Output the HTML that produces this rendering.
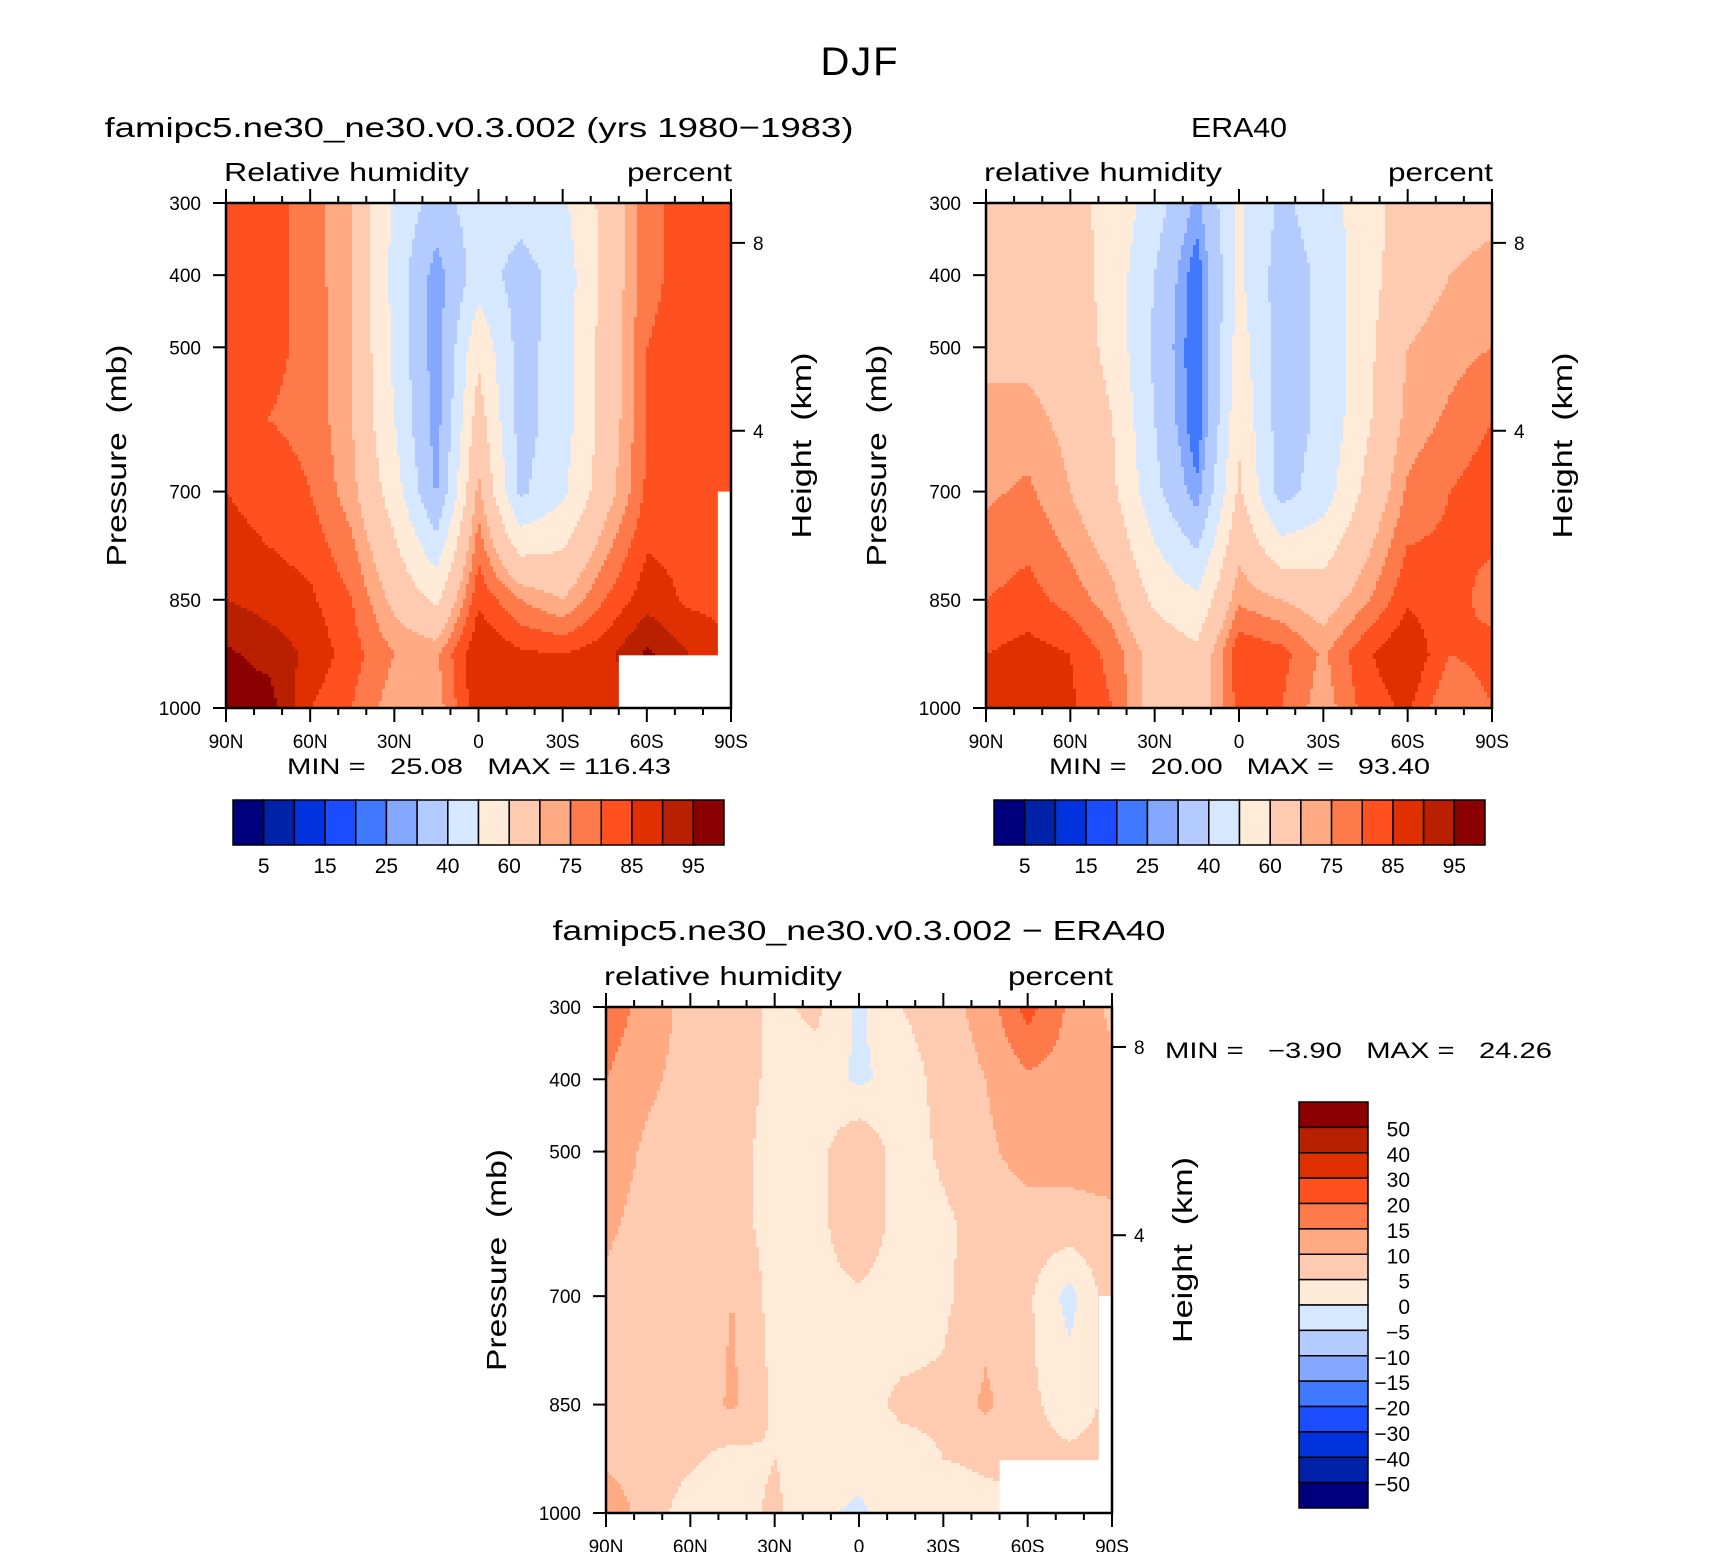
<!DOCTYPE html>
<html><head><meta charset="utf-8"><style>
html,body{margin:0;padding:0;background:#fff;}
svg{display:block;font-family:"Liberation Sans",sans-serif;}
text{white-space:pre;}
</style></head><body>
<svg id="fig" width="1710" height="1552" viewBox="0 0 1710 1552" xmlns="http://www.w3.org/2000/svg">
<rect width="1710" height="1552" fill="#fff"/>
<text x="859" y="75" font-size="40" text-anchor="middle" textLength="77">DJF</text>
<g id="layer"></g>
</svg>
<script>
// ---- data ----
const latLabels = ['90N','60N','30N','0','30S','60S','90S'];
const pressures = [300,400,500,600,700,850,925,1000];
const pTicks = [300,400,500,700,850,1000];
// model RH (rows = pressures, cols = 90N..90S every 15 deg)
const modelRH = [
 [83,82,78,70,48,36,45,44,48,63,78,83,84],
 [83,82,78,70,47,26,45,36,44,63,78,83,84],
 [83,81,79,70,48,25.5,58,36,45,64,80,83,84],
 [84,80,79,70,50,26,65,36,45,64,80,83,84],
 [85,82,80,72,55,29,72,38,48,66,81,83,84],
 [90,88,86,80,68,58,84,75,70,80,88,84,83],
 [96,93,89,82,75,74,90,86,85,88,96,90,86],
 [98,98,85,80,72,72,89,87,90,86,92,90,86]
];
const eraRH = [
 [65,65,63,57,45,28,52,38,45,56,64,64,66],
 [66,66,65,56,40,21,52,35,42,56,66,70,74],
 [68,68,66,57,38,20,55,35,42,57,70,73,75],
 [72,72,68,60,40,20,58,35,42,58,72,76,80],
 [74,76,70,62,43,26,62,36,45,62,76,80,83],
 [80,82,78,72,58,52,74,70,66,74,84,82,78],
 [85,87,85,78,67,62,84,82,74,84,90,80,82],
 [90,88,86,80,66,63,82,80,72,82,86,75,80]
];
const diffRH = [
 [18,13,8,7,4,6,-1,5,8,12,22,14,9],
 [15,11,8,7,4,3,-1,2,7,10,14,13,11],
 [13,9,8,7,3,3,10,2,6,9,12,12,12],
 [11,8,8,7,3,3,10,2,4,7,8,8,9],
 [9,7,7,10,3,3,4,2,4,8,6,-2,8],
 [8,7,6,11,4,3,3,6,6,11,6,3,6],
 [9,8,6,3,5,3,2,3,5,6,6,6,6],
 [13,8,2,3,6,1,-1,3,1,3,5,5,5]
];
const rhLevels = [5,10,15,20,25,30,40,50,60,70,75,80,85,90,95];
const rhLabels = ['5','15','25','40','60','75','85','95'];
const diffLevels = [-50,-40,-30,-20,-15,-10,-5,0,5,10,15,20,30,40,50];
const diffLabels = ['50','40','30','20','15','10','5','0','\u22125','\u221210','\u221215','\u221220','\u221230','\u221240','\u221250'];
const colors = ['#00007f','#0022a8','#0033dd','#1a4dff','#4078ff','#84a8ff','#b3cbff','#d6e8ff','#ffebd8','#ffcbb0','#ffaa82','#ff7a4a','#ff5020','#e03000','#b82000','#8b0000'];

const NS='http://www.w3.org/2000/svg';
const layer=document.getElementById('layer');
function mk(tag,attrs,parent,txt){const e=document.createElementNS(NS,tag);for(const k in attrs)e.setAttribute(k,attrs[k]);if(txt!==undefined)e.textContent=txt;(parent||layer).appendChild(e);return e;}

function levelIndex(v,levels){let i=0;while(i<levels.length&&v>=levels[i])i++;return i;}
function valueAt(grid,fx,p){
  const nc=grid[0].length; const x=fx*(nc-1); let c=Math.min(Math.floor(x),nc-2); const tx=x-c;
  let r=0; while(r<pressures.length-2&&p>pressures[r+1])r++;
  const ty=(p-pressures[r])/(pressures[r+1]-pressures[r]);
  const a=grid[r][c]*(1-tx)+grid[r][c+1]*tx, b=grid[r+1][c]*(1-tx)+grid[r+1][c+1]*tx;
  return a*(1-ty)+b*ty;
}

function panel(o){
  const g=mk('g',{},layer);  
  const X=o.x,Y=o.y,W=o.w,H=o.h;
  const xs=fx=>X+fx*W, ys=p=>Y+(p-300)/700*H;
  const st=3;
  for(let yy=0;yy<H;yy+=st){
    const p=300+(yy+st/2)/H*700; let runStart=0,runIdx=-1;
    const flush=(end)=>{const r=mk('rect',{x:X+runStart,y:Y+yy,width:end-runStart+0.6,height:Math.min(st,H-yy)+0.6,fill:colors[runIdx]},g);
       };
    for(let xx=0;xx<W;xx+=st){
      const idx=levelIndex(valueAt(o.grid,(xx+st/2)/W,p),o.levels);
      if(idx!==runIdx){if(runIdx>=0)flush(xx);runStart=xx;runIdx=idx;}
    }
    flush(W);
  }
  if(o.mask){
    const m1=mk('rect',{x:xs(0.778),y:ys(927),width:W-0.778*W,height:H-(ys(927)-Y),fill:'#fff'},g);
     
    const m2=mk('rect',{x:xs(0.974),y:ys(700),width:0.026*W,height:H-(ys(700)-Y),fill:'#fff'},g);
     
  }
  const fr=mk('rect',{x:X,y:Y,width:W,height:H,fill:'none',stroke:'#000','stroke-width':2.5},g);
   
  for(let d=0;d<=18;d++){const fx=d/18, major=d%3===0, len=major?14:7;
    mk('line',{x1:xs(fx),x2:xs(fx),y1:Y,y2:Y-len,stroke:'#000','stroke-width':2},g);
    mk('line',{x1:xs(fx),x2:xs(fx),y1:Y+H,y2:Y+H+len,stroke:'#000','stroke-width':2},g);}
  latLabels.forEach((l,i)=>{const t=mk('text',{x:xs(i/6),y:Y+H+40,'font-size':19,'text-anchor':'middle'},g,l);
     });
  pTicks.forEach(p=>{mk('line',{x1:X,x2:X-13,y1:ys(p),y2:ys(p),stroke:'#000','stroke-width':2},g);
    const t=mk('text',{x:X-25,y:ys(p)+7,'font-size':19,'text-anchor':'end'},g,String(p));
     });
  [[8,0.079],[4,0.451]].forEach(([k,f])=>{mk('line',{x1:X+W,x2:X+W+14,y1:Y+f*H,y2:Y+f*H,stroke:'#000','stroke-width':2},g);
    const t=mk('text',{x:X+W+22,y:Y+f*H+7,'font-size':19},g,String(k));
     });
  const t1=mk('text',{x:o.title[1],y:o.title[2],'font-size':28,'text-anchor':'middle',textLength:o.title[3],lengthAdjust:'spacingAndGlyphs'},g,o.title[0]);
   
  const t2=mk('text',{x:X-2,y:Y-22,'font-size':26,textLength:o.lhW,lengthAdjust:'spacingAndGlyphs'},g,o.lh);
   
  const t3=mk('text',{x:X+W+1,y:Y-22,'font-size':26,'text-anchor':'end',textLength:105,lengthAdjust:'spacingAndGlyphs'},g,'percent');
   
  const cy=Y+H/2;
  const t4=mk('text',{x:0,y:0,'font-size':28,'text-anchor':'middle',textLength:222,lengthAdjust:'spacingAndGlyphs',transform:`translate(${X-100},${cy}) rotate(-90)`},g,'Pressure  (mb)');
   
  const t5=mk('text',{x:0,y:0,'font-size':28,'text-anchor':'middle',textLength:186,lengthAdjust:'spacingAndGlyphs',transform:`translate(${X+W+80},${Y+0.5*H-10}) rotate(-90)`},g,'Height  (km)');
   
  const t6=mk('text',{x:o.mm[1],y:o.mm[2],'font-size':22,textLength:o.mm[3],lengthAdjust:'spacingAndGlyphs'},g,o.mm[0]);
   
}

function hbar(x,y,w,h){
  const g=mk('g',{},layer);  
  const bw=w/colors.length;
  colors.forEach((c,i)=>{const r=mk('rect',{x:x+i*bw,y:y,width:bw,height:h,fill:c,stroke:'#000','stroke-width':1.5},g);
     });
  rhLabels.forEach((l,i)=>{const t=mk('text',{x:x+(2*i+1)*bw,y:y+h+28,'font-size':21,'text-anchor':'middle'},g,l);
     });
}
function vbar(x,y,w,h){
  const g=mk('g',{},layer);  
  const bh=h/colors.length;
  colors.slice().reverse().forEach((c,i)=>{const r=mk('rect',{x:x,y:y+i*bh,width:w,height:bh,fill:c,stroke:'#000','stroke-width':1.5},g);
     });
  diffLabels.forEach((l,i)=>{const t=mk('text',{x:x+w+42,y:y+(i+1)*bh+9,'font-size':21,'text-anchor':'end'},g,l);
     });
}

panel({name:'model-panel',x:226,y:203,w:505,h:505,grid:modelRH,levels:rhLevels,mask:true,
  title:['famipc5.ne30_ne30.v0.3.002 (yrs 1980\u22121983)',479,137,749],lh:'Relative humidity',lhW:245,
  mm:['MIN =   25.08   MAX = 116.43',287,774,384]});
panel({name:'era40-panel',x:986,y:203,w:506,h:505,grid:eraRH,levels:rhLevels,mask:false,
  title:['ERA40',1239,137,96],lh:'relative humidity',lhW:238,
  mm:['MIN =   20.00   MAX =   93.40',1049,774,381]});
panel({name:'difference-panel',x:606,y:1007,w:506,h:506,grid:diffRH,levels:diffLevels,mask:true,
  title:['famipc5.ne30_ne30.v0.3.002 \u2212 ERA40',859,940,613],lh:'relative humidity',lhW:238,
  mm:['MIN =   \u22123.90   MAX =   24.26',1165,1058,387]});
hbar(233,800,491,45);
hbar(994,800,491,45);
vbar(1299,1102,69,406);
</script>
</body></html>
